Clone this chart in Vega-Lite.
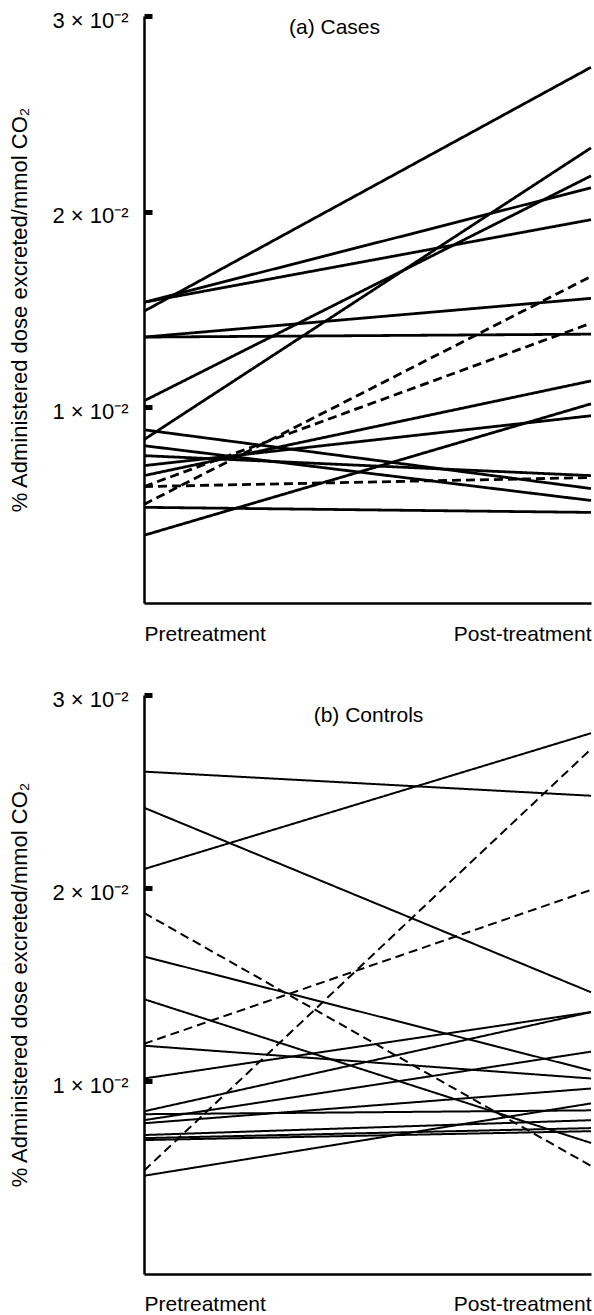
{
  "$schema": "https://vega.github.io/schema/vega-lite/v6.json",
  "padding": {"left": 8, "top": 9, "right": 2, "bottom": 0},
  "background": "white",
  "config": {
    "view": {"stroke": null},
    "font": "Liberation Sans",
    "axis": {"domainColor": "black", "labelColor": "black", "titleColor": "black", "labelFont": "Liberation Sans", "titleFont": "Liberation Sans", "grid": false},
    "title": {"font": "Liberation Sans", "color": "black", "fontWeight": "normal"}
  },
  "datasets": {
    "rows": [
      {"p":"a","id":"a1","t":"Pretreatment","v":0.01491,"s":"solid"},{"p":"a","id":"a1","t":"Post-treatment","v":0.02738,"s":"solid"},
      {"p":"a","id":"a2","t":"Pretreatment","v":0.01537,"s":"solid"},{"p":"a","id":"a2","t":"Post-treatment","v":0.02122,"s":"solid"},
      {"p":"a","id":"a3","t":"Pretreatment","v":0.01537,"s":"solid"},{"p":"a","id":"a3","t":"Post-treatment","v":0.01959,"s":"solid"},
      {"p":"a","id":"a4","t":"Pretreatment","v":0.01359,"s":"solid"},{"p":"a","id":"a4","t":"Post-treatment","v":0.01374,"s":"solid"},
      {"p":"a","id":"a5","t":"Pretreatment","v":0.01359,"s":"solid"},{"p":"a","id":"a5","t":"Post-treatment","v":0.01557,"s":"solid"},
      {"p":"a","id":"a6","t":"Pretreatment","v":0.01033,"s":"solid"},{"p":"a","id":"a6","t":"Post-treatment","v":0.02183,"s":"solid"},
      {"p":"a","id":"a7","t":"Pretreatment","v":0.00835,"s":"solid"},{"p":"a","id":"a7","t":"Post-treatment","v":0.02326,"s":"solid"},
      {"p":"a","id":"a8","t":"Pretreatment","v":0.00504,"s":"dashed"},{"p":"a","id":"a8","t":"Post-treatment","v":0.01669,"s":"dashed"},
      {"p":"a","id":"a9","t":"Pretreatment","v":0.00595,"s":"dashed"},{"p":"a","id":"a9","t":"Post-treatment","v":0.01430,"s":"dashed"},
      {"p":"a","id":"a10","t":"Pretreatment","v":0.00595,"s":"dashed"},{"p":"a","id":"a10","t":"Post-treatment","v":0.00641,"s":"dashed"},
      {"p":"a","id":"a11","t":"Pretreatment","v":0.00489,"s":"solid"},{"p":"a","id":"a11","t":"Post-treatment","v":0.00463,"s":"solid"},
      {"p":"a","id":"a12","t":"Pretreatment","v":0.00346,"s":"solid"},{"p":"a","id":"a12","t":"Post-treatment","v":0.01018,"s":"solid"},
      {"p":"a","id":"a13","t":"Pretreatment","v":0.00885,"s":"solid"},{"p":"a","id":"a13","t":"Post-treatment","v":0.00585,"s":"solid"},
      {"p":"a","id":"a14","t":"Pretreatment","v":0.00804,"s":"solid"},{"p":"a","id":"a14","t":"Post-treatment","v":0.00524,"s":"solid"},
      {"p":"a","id":"a15","t":"Pretreatment","v":0.00753,"s":"solid"},{"p":"a","id":"a15","t":"Post-treatment","v":0.00651,"s":"solid"},
      {"p":"a","id":"a16","t":"Pretreatment","v":0.00702,"s":"solid"},{"p":"a","id":"a16","t":"Post-treatment","v":0.00957,"s":"solid"},
      {"p":"a","id":"a17","t":"Pretreatment","v":0.00651,"s":"solid"},{"p":"a","id":"a17","t":"Post-treatment","v":0.01135,"s":"solid"},
      {"p":"b","id":"b1","t":"Pretreatment","v":0.02603,"s":"solid"},{"p":"b","id":"b1","t":"Post-treatment","v":0.02478,"s":"solid"},
      {"p":"b","id":"b2","t":"Pretreatment","v":0.02098,"s":"solid"},{"p":"b","id":"b2","t":"Post-treatment","v":0.02802,"s":"solid"},
      {"p":"b","id":"b3","t":"Pretreatment","v":0.02416,"s":"solid"},{"p":"b","id":"b3","t":"Post-treatment","v":0.01460,"s":"solid"},
      {"p":"b","id":"b4","t":"Pretreatment","v":0.01645,"s":"solid"},{"p":"b","id":"b4","t":"Post-treatment","v":0.01054,"s":"solid"},
      {"p":"b","id":"b5","t":"Pretreatment","v":0.01424,"s":"solid"},{"p":"b","id":"b5","t":"Post-treatment","v":0.00679,"s":"solid"},
      {"p":"b","id":"b6","t":"Pretreatment","v":0.01183,"s":"solid"},{"p":"b","id":"b6","t":"Post-treatment","v":0.01013,"s":"solid"},
      {"p":"b","id":"b7","t":"Pretreatment","v":0.01013,"s":"solid"},{"p":"b","id":"b7","t":"Post-treatment","v":0.01357,"s":"solid"},
      {"p":"b","id":"b8","t":"Pretreatment","v":0.00843,"s":"solid"},{"p":"b","id":"b8","t":"Post-treatment","v":0.01357,"s":"solid"},
      {"p":"b","id":"b9","t":"Pretreatment","v":0.00509,"s":"solid"},{"p":"b","id":"b9","t":"Post-treatment","v":0.00884,"s":"solid"},
      {"p":"b","id":"b10","t":"Pretreatment","v":0.00797,"s":"solid"},{"p":"b","id":"b10","t":"Post-treatment","v":0.01152,"s":"solid"},
      {"p":"b","id":"b11","t":"Pretreatment","v":0.00781,"s":"solid"},{"p":"b","id":"b11","t":"Post-treatment","v":0.00961,"s":"solid"},
      {"p":"b","id":"b12","t":"Pretreatment","v":0.00828,"s":"solid"},{"p":"b","id":"b12","t":"Post-treatment","v":0.00848,"s":"solid"},
      {"p":"b","id":"b13","t":"Pretreatment","v":0.00720,"s":"solid"},{"p":"b","id":"b13","t":"Post-treatment","v":0.00797,"s":"solid"},
      {"p":"b","id":"b14","t":"Pretreatment","v":0.00704,"s":"solid"},{"p":"b","id":"b14","t":"Post-treatment","v":0.00756,"s":"solid"},
      {"p":"b","id":"b15","t":"Pretreatment","v":0.00694,"s":"solid"},{"p":"b","id":"b15","t":"Post-treatment","v":0.00740,"s":"solid"},
      {"p":"b","id":"b16","t":"Pretreatment","v":0.01871,"s":"dashed"},{"p":"b","id":"b16","t":"Post-treatment","v":0.00560,"s":"dashed"},
      {"p":"b","id":"b17","t":"Pretreatment","v":0.01193,"s":"dashed"},{"p":"b","id":"b17","t":"Post-treatment","v":0.01990,"s":"dashed"},
      {"p":"b","id":"b18","t":"Pretreatment","v":0.00535,"s":"dashed"},{"p":"b","id":"b18","t":"Post-treatment","v":0.02720,"s":"dashed"}
    ]
  },
  "spacing": 44,
  "vconcat": [
    {
      "width": 447,
      "height": 587,
      "title": {"text": "(a) Cases", "fontSize": 21, "anchor": "middle", "dx": -33, "dy": 29, "offset": 0},
      "data": {"name": "rows"},
      "transform": [{"filter": "datum.p === 'a'"}],
      "mark": {"type": "line", "color": "black", "strokeWidth": 2.8, "strokeCap": "butt"},
      "encoding": {
        "x": {"field": "t", "type": "ordinal", "sort": ["Pretreatment", "Post-treatment"],
              "scale": {"type": "point", "padding": 0, "domain": ["Pretreatment", "Post-treatment"]},
              "axis": {"title": null, "ticks": false, "domainWidth": 2.5, "labelFontSize": 21, "labelPadding": 20, "labelAngle": 0, "labelOverlap": false,
                       "labelAlign": {"condition": {"test": "datum.value === 'Pretreatment'", "value": "left"}, "value": "right"}}},
        "y": {"field": "v", "type": "quantitative", "scale": {"domain": [0, 0.03], "nice": false, "zero": false},
              "axis": {"title": "% Administered dose excreted/mmol CO₂", "titleFontSize": 22, "titleFontWeight": "normal", "titlePadding": 20,
                       "values": [0.01, 0.02, 0.03], "labelExpr": "format(datum.value*100, 'd') + ' × 10⁻²'",
                       "labelFontSize": 22, "labelPadding": 24, "labelOffset": 4, "tickSize": -8, "tickWidth": 5, "tickColor": "black", "domainWidth": 2.5}},
        "detail": {"field": "id"},
        "strokeDash": {"field": "s", "type": "nominal", "scale": {"domain": ["solid", "dashed"], "range": [[1, 0], [9, 5]]}, "legend": null}
      }
    },
    {
      "width": 447,
      "height": 579,
      "title": {"text": "(b) Controls", "fontSize": 21, "anchor": "middle", "dx": 1, "dy": 38, "offset": 0},
      "data": {"name": "rows"},
      "transform": [{"filter": "datum.p === 'b'"}],
      "mark": {"type": "line", "color": "black", "strokeWidth": 2, "strokeCap": "butt"},
      "encoding": {
        "x": {"field": "t", "type": "ordinal", "sort": ["Pretreatment", "Post-treatment"],
              "scale": {"type": "point", "padding": 0, "domain": ["Pretreatment", "Post-treatment"]},
              "axis": {"title": null, "ticks": false, "domainWidth": 2.5, "labelFontSize": 21, "labelPadding": 19, "labelAngle": 0, "labelOverlap": false,
                       "labelAlign": {"condition": {"test": "datum.value === 'Pretreatment'", "value": "left"}, "value": "right"}}},
        "y": {"field": "v", "type": "quantitative", "scale": {"domain": [0, 0.03], "nice": false, "zero": false},
              "axis": {"title": "% Administered dose excreted/mmol CO₂", "titleFontSize": 22, "titleFontWeight": "normal", "titlePadding": 20,
                       "values": [0.01, 0.02, 0.03], "labelExpr": "format(datum.value*100, 'd') + ' × 10⁻²'",
                       "labelFontSize": 22, "labelPadding": 24, "labelOffset": 4, "tickSize": -8, "tickWidth": 5, "tickColor": "black", "domainWidth": 2.5}},
        "detail": {"field": "id"},
        "strokeDash": {"field": "s", "type": "nominal", "scale": {"domain": ["solid", "dashed"], "range": [[1, 0], [8, 6]]}, "legend": null}
      }
    }
  ]
}
